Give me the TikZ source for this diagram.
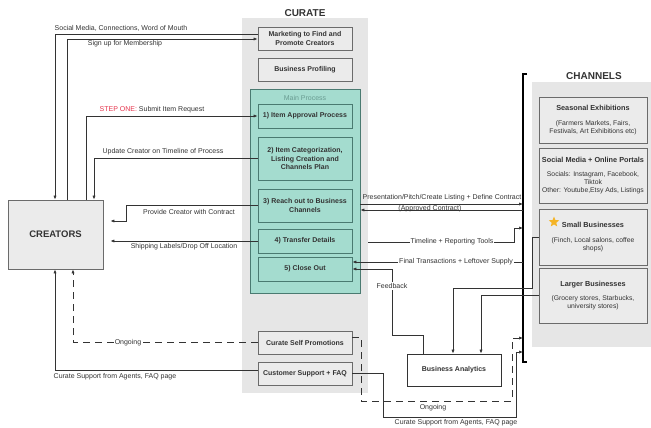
\documentclass[tikz,border=0pt]{standalone}
\usepackage{fontspec}
\setmainfont{Liberation Sans}
\usetikzlibrary{arrows.meta,shapes.geometric}
\definecolor{panelgray}{HTML}{E6E6E6}
\definecolor{boxgray}{HTML}{EBEBEB}
\definecolor{boxline}{HTML}{6B6B6B}
\definecolor{mint}{HTML}{A4DCCF}
\definecolor{mintline}{HTML}{4A7A71}
\definecolor{mintlbl}{HTML}{6A9C92}
\definecolor{stepred}{HTML}{E5334B}
\definecolor{stargold}{HTML}{F4B426}
\definecolor{ink}{HTML}{333333}
\newcommand\chtitle{\fontsize{7.3}{8}\selectfont\bfseries}
\begin{document}
\begin{tikzpicture}
[x=1pt,y=-1pt,
box/.style={draw=boxline,fill=boxgray,line width=0.8pt,minimum width=94pt,inner sep=1pt,align=center,font=\fontsize{7}{8.2}\selectfont\bfseries,text=ink},
stepbox/.style={box,draw=mintline,fill=mint},
chbox/.style={draw=boxline,fill=boxgray,line width=0.8pt,minimum width=108pt,inner sep=1pt,align=center,font=\fontsize{6.8}{7.8}\selectfont,text=ink},
title/.style={font=\fontsize{10}{12}\selectfont\bfseries,text=ink},
lbl/.style={font=\fontsize{7}{8}\selectfont,text=ink,inner sep=1pt},
wlbl/.style={lbl,fill=white},
arr/.style={draw=ink,line width=0.7pt,-{Latex[length=4pt,width=3.2pt]}},
dashline/.style={dash pattern=on 7pt off 5pt}]
\useasboundingbox (0,0) rectangle (651,428);
\node [fill=panelgray,minimum width=126pt,minimum height=375pt] (cur) at (305,205.5) {};
\node [title] (curt) at (305,13) {CURATE};
\node [box,minimum height=23pt] (mkt) at (305,38.5) {Marketing to Find and\\Promote Creators};
\node [box,minimum height=23pt] (bp) at (305,69.5) {Business Profiling};
\node [draw=mintline,fill=mint,line width=0.8pt,minimum width=110pt,minimum height=204pt] (mp) at (305,191) {};
\node [lbl,text=mintlbl] (mpt) at (305,97.5) {Main Process};
\node [stepbox,minimum height=24pt] (s1) at (305,116) {1) Item Approval Process};
\node [stepbox,minimum height=43pt] (s2) at (305,158.5) {2) Item Categorization,\\Listing Creation and\\Channels Plan};
\node [stepbox,minimum height=33pt] (s3) at (305,205.5) {3) Reach out to Business\\Channels};
\node [stepbox,minimum height=24pt] (s4) at (305,241) {4) Transfer Details};
\node [stepbox,minimum height=24pt] (s5) at (305,269) {5) Close Out};
\node [box,minimum height=23pt] (csp) at (305,342.5) {Curate Self Promotions};
\node [box,minimum height=23pt] (cs) at (305,373.5) {Customer Support + FAQ};
\node [draw=boxline,fill=boxgray,line width=0.8pt,minimum width=95pt,minimum height=69pt,title,font=\fontsize{9.5}{11}\selectfont\bfseries] (cre) at (55.5,234.5) {CREATORS};
\node [fill=panelgray,minimum width=119pt,minimum height=265pt] (chp) at (591.5,214.5) {};
\node [title] (cht) at (594,76.5) {CHANNELS};
\node [chbox,minimum height=46pt] (se) at (593,120) {{\chtitle Seasonal Exhibitions}\\[7pt](Farmers Markets, Fairs,\\Festivals, Art Exhibitions etc)};
\node [chbox,minimum height=55pt] (so) at (593,175.5) {{\chtitle Social Media + Online Portals}\\[6pt]Socials: Instagram, Facebook,\\Tiktok\\Other: Youtube,Etsy Ads, Listings};
\node [chbox,minimum height=56pt] (sb) at (593,237) {{\chtitle Small Businesses}\\[8pt](Finch, Local salons, coffee\\shops)};
\node [chbox,minimum height=55pt] (lb) at (593,295.5) {{\chtitle Larger Businesses}\\[7pt](Grocery stores, Starbucks,\\university stores)};
\node [star,star points=5,star point ratio=2.3,fill=stargold,minimum size=11pt,inner sep=0pt] (st) at (554,222) {};
\node [box,draw=ink,fill=white,minimum height=32pt] (ba) at (454,370) {Business Analytics};
\coordinate (bt) at (523,74);
\coordinate (bb) at (523,362);
\draw [line width=1.4pt] ([xshift=4pt]bt) -- (bt) -- (bb) -- ([xshift=4pt]bb);
\coordinate (k1) at (55,34);
\coordinate (k2) at (67,39);
\coordinate (k3) at (86,116);
\coordinate (k4) at (94,158.5);
\coordinate (k5) at (126,221);
\coordinate (k6) at (73,342.5);
\coordinate (k7) at (55,370);
\coordinate (p1) at (523,204);
\coordinate (p2) at (523,210);
\coordinate (t1) at (514,242);
\coordinate (t2) at (514,228);
\coordinate (f1) at (523,262);
\coordinate (fb1) at (423,335);
\coordinate (fb2) at (392,335);
\coordinate (fb3) at (392,269);
\coordinate (sb1) at (532,237);
\coordinate (sb2) at (532,288);
\coordinate (sb3) at (453,288);
\coordinate (lb1) at (481,295.5);
\coordinate (o1) at (361,337);
\coordinate (o2) at (361,401);
\coordinate (o3) at (512,401);
\coordinate (o4) at (512,338);
\coordinate (q1) at (383,373.5);
\coordinate (q2) at (383,417);
\coordinate (q3) at (516,417);
\coordinate (q4) at (516,352);
\draw [arr] (mkt.west |- k1) -- (k1) -- (k1 |- cre.north);
\draw [arr] (k2 |- cre.north) -- (k2) -- (k2 -| mkt.west);
\draw [arr] (k3 |- cre.north) -- (k3) -- (k3 -| s1.west);
\draw [arr] (s2.west) -- (k4) -- (k4 |- cre.north);
\draw [arr,shorten >=7pt] (s3.west) -- (s3.west -| k5) -- (k5) -- (k5 -| cre.east);
\draw [arr,shorten >=7pt] (s4.west) -- (s4.west -| cre.east);
\draw [arr,dashline] (csp.west) -- (k6) -- (k6 |- cre.south);
\draw [arr] (cs.west |- k7) -- (k7) -- (k7 |- cre.south);
\draw [arr] (p1 -| mp.east) -- (p1);
\draw [arr] (p2) -- (p2 -| mp.east);
\draw [arr] (t1 -| cur.east) -- (t1) -- (t2) -- (t2 -| bt);
\draw [arr] (f1) -- (f1 -| s5.east);
\draw [arr] (fb1 |- ba.north) -- (fb1) -- (fb2) -- (fb3) -- (fb3 -| s5.east);
\draw [arr] (sb.west) -- (sb1) -- (sb2) -- (sb3) -- (sb3 |- ba.north);
\draw [arr] (lb.west) -- (lb1) -- (lb1 |- ba.north);
\draw [arr,dashline] (o1 -| csp.east) -- (o1) -- (o2) -- (o3) -- (o4) -- (o4 -| bt);
\draw [arr] (cs.east) -- (q1) -- (q2) -- (q3) -- (q4) -- (q4 -| bt);
\node [lbl] (lsoc) at (121,28) {Social Media, Connections, Word of Mouth};
\node [lbl] (lsign) at (125,43.5) {Sign up for Membership};
\node [lbl] (lstep) at (152,109.5) {{\color{stepred}STEP ONE:} Submit Item Request};
\node [lbl] (lupd) at (163,152) {Update Creator on Timeline of Process};
\node [lbl] (lprov) at (189,211.5) {Provide Creator with Contract};
\node [lbl] (lship) at (184,247) {Shipping Labels/Drop Off Location};
\node [wlbl] (lon1) at (128,342.5) {Ongoing};
\node [lbl] (lsup1) at (115,376.5) {Curate Support from Agents, FAQ page};
\node [lbl] (lpres) at (442,197.5) {Presentation/Pitch/Create Listing + Define Contract};
\node [lbl] (lappr) at (430,209) {(Approved Contract)};
\node [wlbl] (ltime) at (452,242) {Timeline + Reporting Tools};
\node [wlbl] (lfin) at (456,262) {Final Transactions + Leftover Supply};
\node [wlbl] (lfb) at (392,286) {Feedback};
\node [lbl] (lon2) at (433,407.5) {Ongoing};
\node [lbl] (lsup2) at (456,422.5) {Curate Support from Agents, FAQ page};
\end{tikzpicture}
\end{document}
